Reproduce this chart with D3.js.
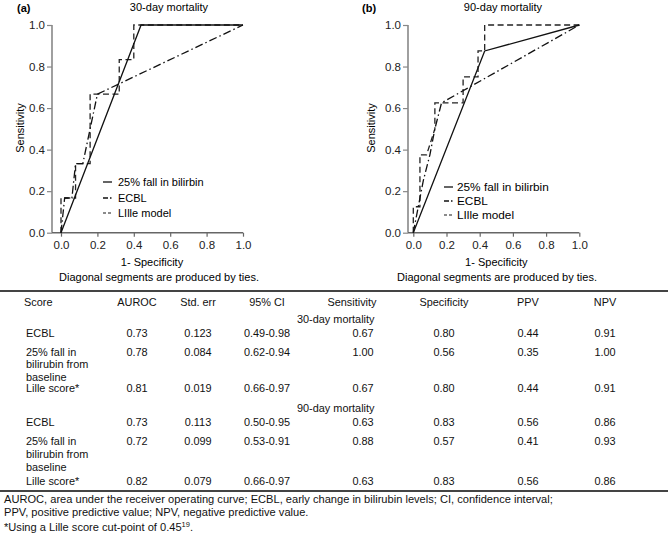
<!DOCTYPE html>
<html><head><meta charset="utf-8">
<script src="https://cdn.jsdelivr.net/npm/d3@7/dist/d3.min.js"></script>
<style>
html,body{margin:0;padding:0;background:#fff;}
svg{display:block;font-family:"Liberation Sans",Arial,sans-serif;}
</style></head>
<body>
<svg id="c" width="668" height="536"></svg>
<script>
// ---------- DATA ----------
const axisTicks = [0, 0.2, 0.4, 0.6, 0.8, 1.0];
const panelTitles = ["30-day mortality", "90-day mortality"];
const panelLetters = ["(a)", "(b)"];
const legendNames = ["25% fall in bilirbin", "ECBL", "LIlle model"];

// ROC curves: [1-specificity, sensitivity]
const fall30  = [[0,0],[0.44,1.0],[1,1]];
const ecbl30  = [[0,0],[0.02,0.167],[0.06,0.167],[0.08,0.333],[0.12,0.333],[0.2,0.667],[1,1]];
const lille30 = [[0,0],[0,0.167],[0.08,0.167],[0.08,0.333],[0.16,0.333],[0.16,0.667],[0.32,0.667],[0.32,0.833],[0.4,0.833],[0.4,1.0],[1,1]];
const fall90  = [[0,0],[0.43,0.875],[1,1]];
const ecbl90  = [[0,0],[0.03,0.125],[0.06,0.25],[0.1,0.375],[0.13,0.5],[0.17,0.625],[1,1]];
const lille90 = [[0,0],[0,0.125],[0.04,0.125],[0.04,0.375],[0.08,0.375],[0.13,0.5],[0.13,0.625],[0.3,0.625],[0.3,0.75],[0.39,0.75],[0.39,0.875],[0.43,0.875],[0.43,1.0],[1,1]];

// Table
const tableHeaders = ["Score","AUROC","Std. err","95% CI","Sensitivity","Specificity","PPV","NPV"];
const tableGroups = ["30-day mortality","90-day mortality"];
const scoreNames = [["ECBL"],["25% fall in","bilirubin from","baseline"],["Lille score*"]];
const auroc30 = [0.73, 0.78, 0.81];
const stderr30 = [0.123, 0.084, 0.019];
const ci30 = ["0.49-0.98","0.62-0.94","0.66-0.97"];
const sens30 = [0.67, 1.00, 0.67];
const spec30 = [0.80, 0.56, 0.80];
const ppv30 = [0.44, 0.35, 0.44];
const npv30 = [0.91, 1.00, 0.91];
const auroc90 = [0.73, 0.72, 0.82];
const stderr90 = [0.113, 0.099, 0.079];
const ci90 = ["0.50-0.95","0.53-0.91","0.66-0.97"];
const sens90 = [0.63, 0.88, 0.63];
const spec90 = [0.83, 0.57, 0.83];
const ppv90 = [0.56, 0.41, 0.56];
const npv90 = [0.86, 0.93, 0.86];
const footnotes = [
  "AUROC, area under the receiver operating curve; ECBL, early change in bilirubin levels; CI, confidence interval;",
  "PPV, positive predictive value; NPV, negative predictive value.",
  "*Using a Lille score cut-point of 0.45"
];
const footRef = "19";

// ---------- DRAW ----------
const svg = d3.select("#c");
const f2 = d3.format(".2f"), f3 = d3.format(".3f");
const dashECBL = "8,3,1.5,3";
const dashLille = "6,3.5";

const panels = [
  {curves:[fall30, ecbl30, lille30], x0:61, x1:243, yAxisX:52, letterX:17, titleX:169,
   ylabX:20, legX:103, legTextX:118, legY:[182,198,213], legFont:11, diagX:159},
  {curves:[fall90, ecbl90, lille90], x0:413.3, x1:579.3, yAxisX:408, letterX:362, titleX:503,
   ylabX:371, legX:444, legTextX:457, legY:[187,201,215], legFont:11.8, diagX:497}
];

panels.forEach((p, i) => {
  const x = d3.scaleLinear().domain([0,1]).range([p.x0, p.x1]);
  const y = d3.scaleLinear().domain([0,1]).range([232.7, 25]);
  const g = svg.append("g");

  // y axis
  const yAx = g.append("g").attr("transform", `translate(${p.yAxisX},0)`)
    .call(d3.axisLeft(y).tickValues(axisTicks).tickFormat(d3.format(".1f")).tickSize(5).tickPadding(2));
  yAx.select(".domain").attr("stroke","#888").attr("stroke-width",1.6).attr("d", `M0,${y(1)}V${y(0)}`);
  yAx.selectAll(".tick line").attr("stroke","#888").attr("stroke-width",1.2);
  yAx.selectAll("text").attr("font-size",11.5).attr("fill","#222").attr("font-family","Liberation Sans, Arial, sans-serif");

  // x axis
  const xAx = g.append("g").attr("transform", `translate(0,${y(0)})`)
    .call(d3.axisBottom(x).tickValues(axisTicks).tickFormat(d3.format(".1f")).tickSize(4).tickPadding(4));
  xAx.select(".domain").attr("stroke","#666").attr("stroke-width",1.4).attr("d", `M${p.yAxisX},0H${x(1)}`);
  xAx.selectAll(".tick line").attr("stroke","#666").attr("stroke-width",1.2);
  xAx.selectAll("text").attr("font-size",11.5).attr("fill","#222").attr("font-family","Liberation Sans, Arial, sans-serif");

  // labels
  g.append("text").attr("x", p.letterX).attr("y", 12).attr("font-size", 11).attr("font-weight","bold").text(panelLetters[i]);
  g.append("text").attr("x", p.titleX).attr("y", 11).attr("font-size", 11).attr("text-anchor","middle").text(panelTitles[i]);
  g.append("text").attr("transform", `translate(${p.ylabX + 4},128) rotate(-90)`).attr("font-size", 11)
    .attr("text-anchor","middle").text("Sensitivity");
  g.append("text").attr("x", (p.x0+p.x1)/2).attr("y", 266).attr("font-size", 11).attr("text-anchor","middle").text("1- Specificity");
  g.append("text").attr("x", p.diagX).attr("y", 281).attr("font-size", 11).attr("text-anchor","middle").text("Diagonal segments are produced by ties.");

  // curves
  const line = d3.line().x(d => x(d[0])).y(d => y(d[1]));
  const styles = [
    {dash:null, color:"#111", w:1.3},
    {dash:dashECBL, color:"#111", w:1.3},
    {dash:dashLille, color:"#222", w:1.3}
  ];
  [2,1,0].forEach(k => {
    g.append("path").attr("d", line(p.curves[k])).attr("fill","none")
      .attr("stroke", styles[k].color).attr("stroke-width", styles[k].w)
      .attr("stroke-dasharray", styles[k].dash);
  });

  // legend
  legendNames.forEach((name, k) => {
    const ly = p.legY[k];
    g.append("line").attr("x1", p.legX).attr("x2", p.legX + 9).attr("y1", ly).attr("y2", ly)
      .attr("stroke", k===2 ? "#666" : "#111").attr("stroke-width", 1.3)
      .attr("stroke-dasharray", k===0 ? null : (k===1 ? "5,2,1.5,2" : "3,2"));
    g.append("text").attr("x", p.legTextX).attr("y", ly + 4).attr("font-size", p.legFont).text(name);
  });
});

// ---------- TABLE ----------
const T = svg.append("g").attr("font-size", 10.9).attr("fill","#111");
const colX = [24, 137, 198, 267, 352, 444, 528, 605];
const valX = [26, 137, 198, 267, 363, 444, 528, 605];
T.append("line").attr("x1",0).attr("x2",668).attr("y1",291).attr("y2",291).attr("stroke","#444").attr("stroke-width",2);
T.append("line").attr("x1",0).attr("x2",668).attr("y1",491).attr("y2",491).attr("stroke","#444").attr("stroke-width",2);

tableHeaders.forEach((h, c) => {
  T.append("text").attr("x", colX[c]).attr("y", 305.5).attr("text-anchor", c===0 ? "start" : "middle").text(h);
});

const groupData = [
  {label: tableGroups[0], y: 323, rows: [auroc30, stderr30, ci30, sens30, spec30, ppv30, npv30], rowY:[337, 355.5, 392]},
  {label: tableGroups[1], y: 411.5, rows: [auroc90, stderr90, ci90, sens90, spec90, ppv90, npv90], rowY:[426, 445, 484.5]}
];
groupData.forEach(gd => {
  T.append("text").attr("x", 297).attr("y", gd.y).text(gd.label);
  scoreNames.forEach((lines, r) => {
    const by = gd.rowY[r];
    lines.forEach((ln, li) => {
      T.append("text").attr("x", valX[0]).attr("y", by + li*12.8).text(ln);
    });
    gd.rows.forEach((arr, c) => {
      const v = arr[r];
      const s = typeof v === "string" ? v : (c === 1 ? f3(v) : f2(v));
      T.append("text").attr("x", valX[c+1]).attr("y", by).attr("text-anchor","middle").text(s);
    });
  });
});

// footnotes
const FN = svg.append("g").attr("font-size", 11.1).attr("fill","#111");
FN.append("text").attr("x", 4).attr("y", 502.5).text(footnotes[0]);
FN.append("text").attr("x", 4).attr("y", 515.5).text(footnotes[1]);
const t3 = FN.append("text").attr("x", 4).attr("y", 530.5);
t3.append("tspan").text(footnotes[2]);
t3.append("tspan").attr("font-size", 7.5).attr("dy", -4).text(footRef);
t3.append("tspan").attr("dy", 4).text(".");
</script>
</body></html>
